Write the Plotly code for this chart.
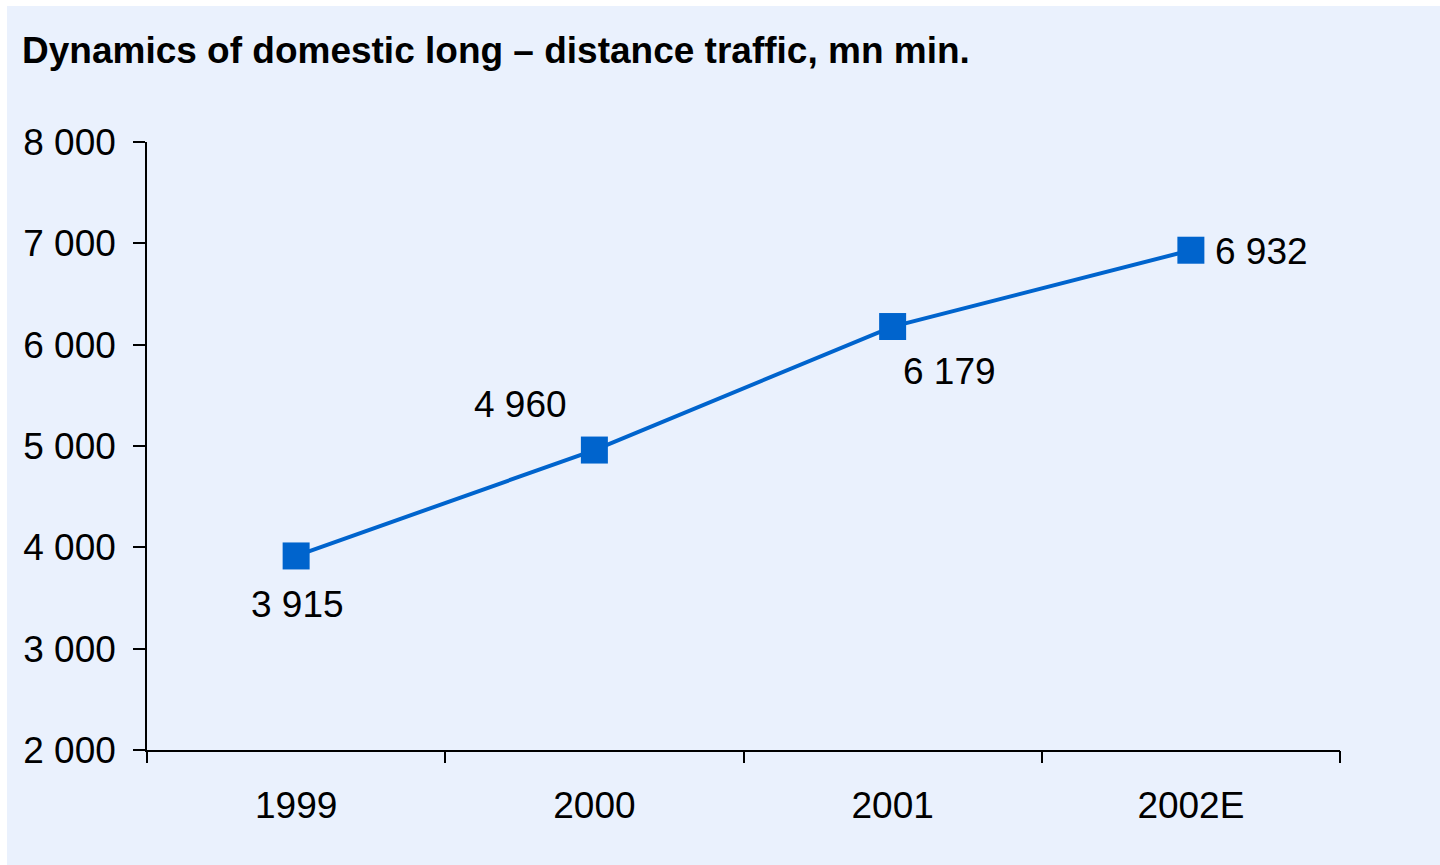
import plotly.graph_objects as go

categories = ["1999", "2000", "2001", "2002E"]
values = [3915, 4960, 6179, 6932]
labels = ["3 915", "4 960", "6 179", "6 932"]
y_ticks = [2000, 3000, 4000, 5000, 6000, 7000, 8000]
y_tick_text = ["2 000", "3 000", "4 000", "5 000", "6 000", "7 000", "8 000"]

title_text = "Dynamics of domestic long – distance traffic, mn min."

FONT = "Liberation Sans, Arial, sans-serif"
BLUE = "#0064CD"
BG = "#EAF1FD"
FS = 37

W, H = 1440, 865
L, R, T, B = 147, 100, 142, 115
pw, ph = W - L - R, H - T - B

fig = go.Figure()
fig.add_trace(go.Scatter(
    x=list(range(len(categories))), y=values, mode="lines+markers",
    line=dict(color=BLUE, width=4),
    marker=dict(symbol="square", size=27, color=BLUE),
    hoverinfo="skip", showlegend=False,
))

# data labels (pixel offsets from the markers)
offsets = [(1, 49), (-74, -46), (57, 45), (71, 1)]
for i, (v, t, (dx, dy)) in enumerate(zip(values, labels, offsets)):
    fig.add_annotation(x=i, y=v, text=t, showarrow=False, xshift=dx, yshift=-dy,
                       font=dict(family=FONT, size=FS, color="#000000"))

# light-blue panel with a thin white edge at top and left
fig.add_shape(type="rect", xref="paper", yref="paper", layer="below",
              x0=(7 - L) / pw, x1=(W - L + 2) / pw,
              y0=-(B + 2) / ph, y1=(ph + T - 6) / ph,
              fillcolor=BG, line=dict(width=0))

fig.update_layout(
    width=W, height=H,
    margin=dict(l=L, r=R, t=T, b=B),
    paper_bgcolor="#FFFFFF", plot_bgcolor="rgba(0,0,0,0)",
    title=dict(text="<b>" + title_text + "</b>", x=22 / W, xanchor="left",
               y=1 - 50 / H, yanchor="middle",
               font=dict(family=FONT, size=FS, color="#000000")),
    font=dict(family=FONT, size=FS, color="#000000"),
    xaxis=dict(range=[-0.5, 3.5], tickmode="array",
               tickvals=list(range(len(categories))), ticktext=categories,
               showgrid=False, showline=True, linecolor="#000000", linewidth=1.5,
               ticks="", zeroline=False, ticklabelstandoff=22,
               tickfont=dict(family=FONT, size=FS, color="#000000")),
    xaxis2=dict(overlaying="x", matches="x", range=[-0.5, 3.5], side="bottom",
                tickmode="array", tickvals=[-0.5, 0.5, 1.5, 2.5, 3.5],
                showticklabels=False, ticks="outside", ticklen=12,
                tickcolor="#000000", tickwidth=1.5, showgrid=False,
                showline=False, zeroline=False),
    yaxis=dict(range=[2000, 8000], tickvals=y_ticks, ticktext=y_tick_text,
               showgrid=False, showline=True, linecolor="#000000", linewidth=1.5,
               ticks="outside", ticklen=12, tickcolor="#000000", tickwidth=1.5,
               zeroline=False, ticklabelstandoff=10,
               tickfont=dict(family=FONT, size=FS, color="#000000")),
)
# invisible helper trace so the boundary ticks on xaxis2 are drawn
fig.add_trace(go.Scatter(x=[None], y=[None], xaxis="x2", yaxis="y",
                         showlegend=False, hoverinfo="skip"))

fig.write_html("out.html",
               config={"displayModeBar": False},
               post_script="document.body.style.margin='0';"
                           "document.body.style.overflow='hidden';")
